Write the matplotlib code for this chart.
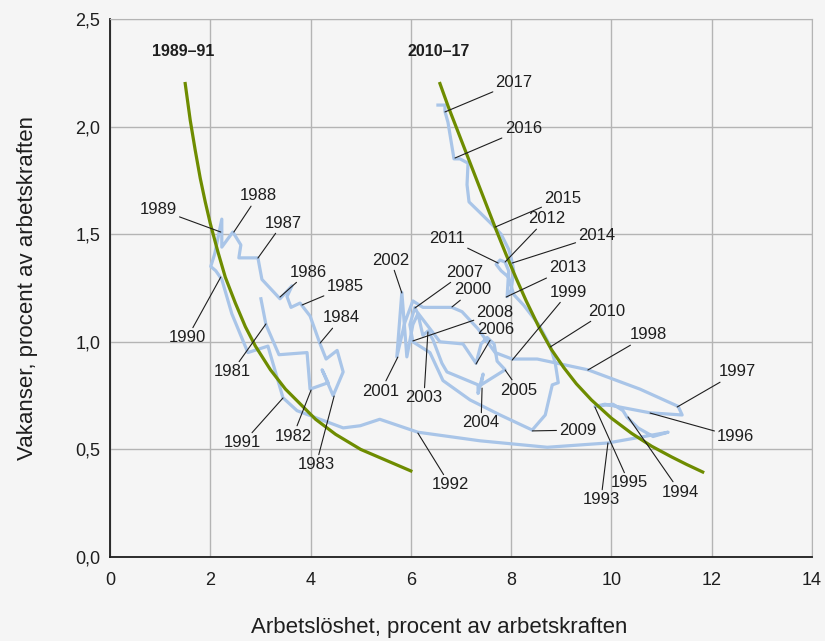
import matplotlib
matplotlib.use('Agg')
import matplotlib.pyplot as plt
from matplotlib.ticker import FuncFormatter

# Unemployment (x) and vacancies (y), path 1981 -> 2017
unemp = [3.01, 3.11, 3.37, 3.93, 3.99, 4.35, 4.23, 4.45, 4.65, 4.53, 4.31, 4.19,
         3.99, 3.79, 3.61, 3.53, 3.63, 3.39, 3.03, 2.95, 2.57, 2.61, 2.45, 2.23,
         2.23, 2.09, 2.01, 2.11, 2.23, 2.43, 2.75, 3.15, 3.45, 3.73, 4.19, 4.65,
         4.99, 5.38, 6.14, 7.38, 8.72, 9.93, 11.13, 10.83, 10.53, 10.31, 10.23,
         10.03, 9.67, 9.87, 10.77, 11.41, 11.33, 10.57, 9.53, 8.52, 8.02,
         7.68, 7.34, 7.02, 6.82, 6.24, 6.04, 5.88, 5.72, 5.82, 5.92, 6.04, 6.14,
         6.24, 6.34, 6.44, 6.62, 6.72, 7.34, 7.34, 7.44, 7.40, 7.88, 7.72, 7.66,
         7.52, 7.40, 7.30, 7.04, 6.58, 6.12, 6.08, 5.98, 6.04, 6.38, 6.64, 7.18,
         7.78, 8.42, 8.68, 8.82, 8.94, 8.88, 8.78, 8.55, 8.25, 8.05, 7.95, 7.80,
         7.70, 7.78, 7.88, 7.95, 7.92, 8.00, 8.05, 8.02, 7.95, 7.80, 7.64, 7.38,
         7.16, 7.12, 7.14, 6.98, 6.86, 6.74, 6.68, 6.68, 6.54]
vacancy = [1.20, 1.08, 0.94, 0.95, 0.78, 0.81, 0.87, 0.75, 0.86, 0.96, 0.92, 0.99,
           1.12, 1.18, 1.16, 1.21, 1.26, 1.20, 1.29, 1.39, 1.39, 1.45, 1.51, 1.44,
           1.57, 1.41, 1.35, 1.33, 1.29, 1.13, 0.95, 0.98, 0.74, 0.68, 0.64, 0.60,
           0.61, 0.64, 0.58, 0.54, 0.51, 0.53, 0.58, 0.56, 0.60, 0.65, 0.68,
           0.71, 0.70, 0.71, 0.67, 0.66, 0.70, 0.78, 0.87, 0.92, 0.92,
           0.95, 1.06, 1.14, 1.16, 1.16, 1.19, 1.09, 0.93, 1.23, 0.93, 1.08, 1.13,
           1.03, 1.05, 1.01, 0.90, 0.86, 0.80, 0.76, 0.85, 0.80, 0.87, 0.91, 0.99,
           1.02, 0.99, 0.90, 0.99, 1.00, 1.14, 1.16, 1.08, 1.00, 0.95, 0.82, 0.73,
           0.66, 0.59, 0.66, 0.80, 0.81, 0.90, 0.98, 1.08, 1.17, 1.22, 1.30, 1.33,
           1.36, 1.38, 1.37, 1.33, 1.21, 1.24, 1.33, 1.37, 1.43, 1.50, 1.54, 1.60,
           1.65, 1.73, 1.83, 1.85, 1.85, 2.02, 2.07, 2.10, 2.10]

# Beveridge curves
curve1_x = [1.5, 1.6, 1.7, 1.8, 1.9, 2.0, 2.15, 2.3, 2.5, 2.7, 2.9, 3.2, 3.5,
            3.8, 4.1, 4.5, 5.0, 5.5, 6.0]
curve1_y = [2.20, 2.03, 1.89, 1.76, 1.65, 1.55, 1.42, 1.30, 1.18, 1.07, 0.98,
            0.87, 0.78, 0.71, 0.64, 0.57, 0.50, 0.45, 0.40]
curve2_x = [6.58, 6.75, 6.9, 7.1, 7.3, 7.5, 7.7, 7.9, 8.1, 8.3, 8.55, 8.8, 9.05,
            9.3, 9.6, 10.0, 10.4, 10.8, 11.2, 11.5, 11.82]
curve2_y = [2.20, 2.09, 2.00, 1.88, 1.76, 1.64, 1.52, 1.405, 1.295, 1.19, 1.07,
            0.965, 0.88, 0.805, 0.73, 0.645, 0.575, 0.515, 0.465, 0.43, 0.395]

# year labels: point on path and text position
years = ['1981', '1982', '1983', '1984', '1985', '1986', '1987', '1988', '1989',
         '1990', '1991', '1992', '1993', '1994', '1995', '1996', '1997', '1998',
         '1999', '2000', '2001', '2002', '2003', '2004', '2005', '2006', '2007',
         '2008', '2009', '2010', '2011', '2012', '2013', '2014', '2015', '2016', '2017']
pt_x = [3.11, 4.01, 4.47, 4.19, 3.83, 3.39, 2.95, 2.47, 2.21, 2.21, 3.45, 6.14,
        9.93, 10.33, 9.67, 10.77, 11.31, 9.53, 8.02, 6.82, 5.74, 5.82, 6.34, 7.42,
        7.88, 7.30, 6.08, 6.04, 8.42, 8.78, 7.74, 7.88, 7.90, 8.02, 7.68, 6.88, 6.68]
pt_y = [1.083, 0.776, 0.748, 0.994, 1.171, 1.208, 1.389, 1.510, 1.510, 1.301,
        0.739, 0.576, 0.530, 0.651, 0.697, 0.669, 0.697, 0.869, 0.915, 1.162,
        0.929, 1.227, 1.046, 0.785, 0.869, 0.897, 1.157, 1.004, 0.586, 0.976,
        1.366, 1.371, 1.208, 1.366, 1.533, 1.854, 2.068]
txt_x = [2.43, 3.65, 4.11, 4.61, 4.69, 3.95, 3.45, 2.95, 0.96, 1.54, 2.65, 6.78,
         9.79, 11.37, 10.35, 12.48, 12.52, 10.73, 9.15, 7.24, 5.40, 5.60, 6.26,
         7.40, 8.16, 7.70, 7.08, 7.68, 9.33, 9.91, 6.72, 8.70, 9.13, 9.71, 9.03,
         8.24, 8.06]
txt_y = [0.860, 0.562, 0.428, 1.111, 1.255, 1.324, 1.552, 1.678, 1.617, 1.018,
         0.530, 0.335, 0.265, 0.302, 0.344, 0.558, 0.860, 1.032, 1.231, 1.241,
         0.771, 1.380, 0.739, 0.623, 0.776, 1.055, 1.324, 1.134, 0.590, 1.143,
         1.482, 1.571, 1.343, 1.492, 1.668, 1.989, 2.203]

bg = '#f5f5f5'
ink = '#1e1e1e'
plt.rcParams['font.family'] = ['Liberation Sans', 'DejaVu Sans']

fig = plt.figure(figsize=(8.25, 6.41), dpi=100, facecolor=bg)
ax = fig.add_axes([0.1333, 0.131, 0.851, 0.8394], facecolor=bg)

ax.plot(unemp, vacancy, color='#a9c5e8', lw=2.3, zorder=2)
ax.plot(curve1_x, curve1_y, color='#6e8c00', lw=2.3, zorder=3)
ax.plot(curve2_x, curve2_y, color='#6e8c00', lw=2.3, zorder=3)

for yr, px, py, tx, ty in zip(years, pt_x, pt_y, txt_x, txt_y):
    ax.annotate(yr, xy=(px, py), xytext=(tx, ty), ha='center', va='center',
                fontsize=12, color=ink, zorder=5,
                arrowprops=dict(arrowstyle='-', color=ink, lw=0.8,
                                shrinkA=0, shrinkB=0))

ax.text(1.46, 2.35, '1989–91', ha='center', va='center', fontsize=11.5,
        fontweight='bold', color=ink)
ax.text(6.56, 2.35, '2010–17', ha='center', va='center', fontsize=11.5,
        fontweight='bold', color=ink)

ax.set_xlim(0, 14)
ax.set_ylim(0, 2.5)
ax.set_xticks(range(0, 15, 2))
ax.set_yticks([0, 0.5, 1.0, 1.5, 2.0, 2.5])
ax.yaxis.set_major_formatter(FuncFormatter(lambda v, p: f'{v:.1f}'.replace('.', ',')))
ax.tick_params(length=0, labelsize=13, colors=ink)
ax.tick_params(axis='x', pad=11)
ax.tick_params(axis='y', pad=7)
ax.grid(color='#b4b4b4', lw=1)
ax.set_axisbelow(True)

for s in ['top', 'right']:
    ax.spines[s].set_color('#b4b4b4')
for s in ['left', 'bottom']:
    ax.spines[s].set_color(ink)
    ax.spines[s].set_linewidth(1.3)

ax.set_xlabel('Arbetslöshet, procent av arbetskraften', fontsize=16, color=ink)
ax.set_ylabel('Vakanser, procent av arbetskraften', fontsize=16, color=ink)
ax.xaxis.set_label_coords(0.469, -0.112)
ax.yaxis.set_label_coords(-0.103, 0.5)

fig.savefig('out.png', dpi=100, facecolor=bg)
